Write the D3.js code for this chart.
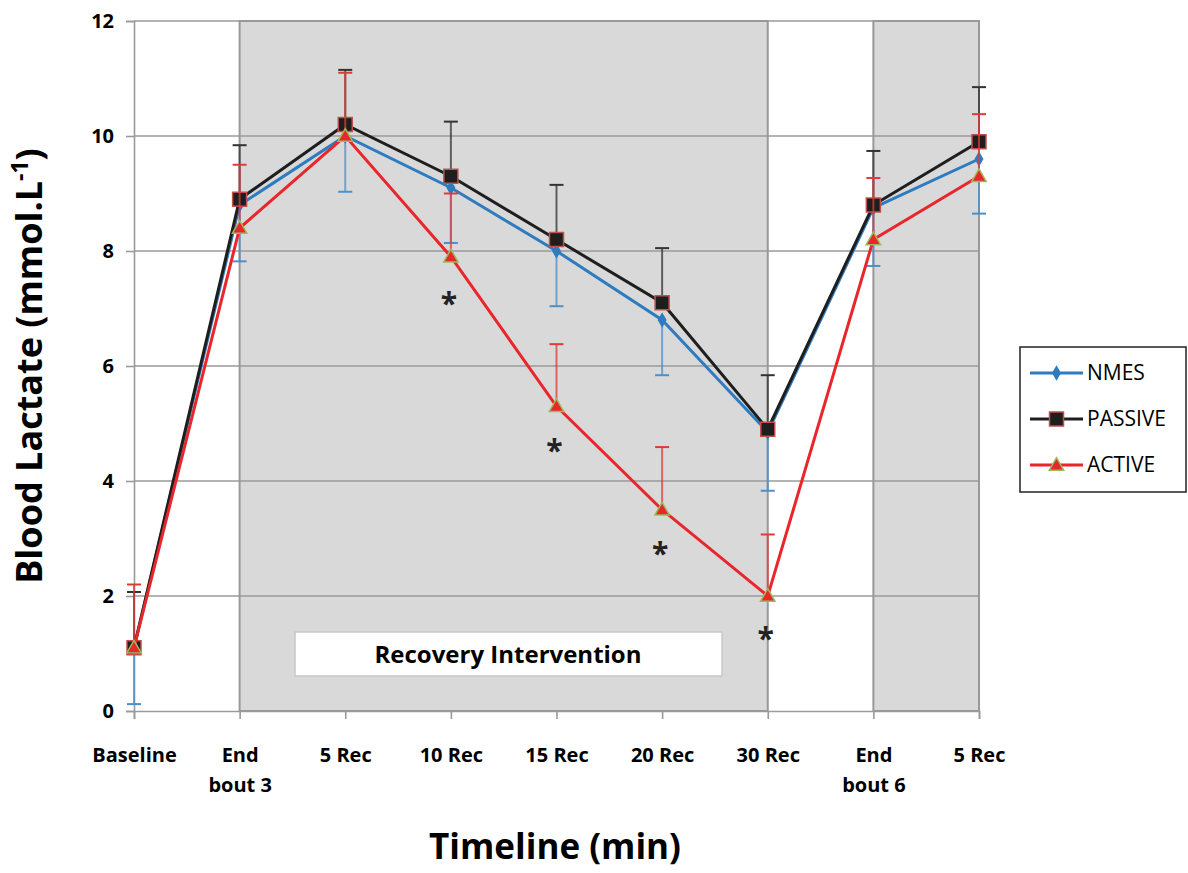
<!DOCTYPE html>
<html>
<head>
<meta charset="utf-8">
<script src="https://cdnjs.cloudflare.com/ajax/libs/d3/7.8.5/d3.min.js"></script>
<style>
  body { margin: 0; background: #fff; }
  text { font-family: "Open Sans", Lato, sans-serif; }
</style>
</head>
<body>
<div id="chart"></div>
<script>
// Time points
const categories = ["Baseline", "End bout 3", "5 Rec", "10 Rec", "15 Rec", "20 Rec", "30 Rec", "End bout 6", "5 Rec "];
const tickLabels = [["Baseline"], ["End", "bout 3"], ["5 Rec"], ["10 Rec"], ["15 Rec"], ["20 Rec"], ["30 Rec"], ["End", "bout 6"], ["5 Rec"]];

// Means (mmol/L)
const nmes    = [1.1, 8.8, 10.0, 9.1, 8.0, 6.8, 4.85, 8.75, 9.6];
const passive = [1.1, 8.9, 10.2, 9.3, 8.2, 7.1, 4.9, 8.8, 9.9];
const active  = [1.1, 8.4, 10.0, 7.9, 5.3, 3.5, 2.0, 8.2, 9.3];

// Error bar ends (NMES shown downward, PASSIVE/ACTIVE upward)
const nmesLow    = [0.12, 7.82, 9.03, 8.14, 7.04, 5.84, 3.83, 7.74, 8.65];
const passiveHigh = [2.07, 9.84, 11.15, 10.25, 9.15, 8.05, 5.84, 9.74, 10.85];
const activeHigh  = [2.2, 9.5, 11.1, 9.0, 6.38, 4.59, 3.07, 9.27, 10.38];

// Significance markers (ACTIVE vs others)
const sigIndex = [3, 4, 5, 6];
const sigY = [7.15, 4.6, 2.8, 1.32];

// Shaded spans (category indices)
const shaded = [[1, 6], [7, 8]];

const yTicks = [0, 2, 4, 6, 8, 10, 12];

const width = 1188, height = 873;
const svg = d3.select("#chart").append("svg")
  .attr("width", width)
  .attr("height", height);

const x = d3.scalePoint().domain(categories).range([134, 979]);
const y = d3.scaleLinear().domain([0, 12]).range([711, 21]);

// Shaded intervention zones
svg.selectAll("rect.zone")
  .data(shaded)
  .join("rect")
  .attr("class", "zone")
  .attr("x", d => x(categories[d[0]]))
  .attr("y", y(12))
  .attr("width", d => x(categories[d[1]]) - x(categories[d[0]]))
  .attr("height", y(0) - y(12))
  .attr("fill", "#d9d9d9")
  .attr("stroke", "#999")
  .attr("stroke-width", 2);

// Horizontal gridlines
svg.append("g")
  .selectAll("line")
  .data(yTicks.filter(d => d > 0))
  .join("line")
  .attr("x1", x.range()[0])
  .attr("x2", x.range()[1])
  .attr("y1", d => y(d))
  .attr("y2", d => y(d))
  .attr("stroke", "#9a9a9a")
  .attr("stroke-width", 1.6);

// Recovery Intervention label box
svg.append("rect")
  .attr("x", 295).attr("y", 632)
  .attr("width", 427).attr("height", 44)
  .attr("fill", "#fff")
  .attr("stroke", "#c8c8c8")
  .attr("stroke-width", 1.5);
svg.append("text")
  .attr("x", 508).attr("y", 663)
  .attr("text-anchor", "middle")
  .attr("font-size", 24)
  .attr("font-weight", "bold")
  .attr("fill", "#000")
  .text("Recovery Intervention");

// Y axis
const yAxis = svg.append("g")
  .attr("transform", `translate(${x.range()[0]},0)`)
  .call(d3.axisLeft(y).tickValues(yTicks).tickSize(8).tickPadding(12).tickFormat(d3.format("d")));
yAxis.select(".domain").attr("stroke", "#9a9a9a").attr("stroke-width", 1.6);
yAxis.selectAll(".tick line").attr("stroke", "#9a9a9a").attr("stroke-width", 1.6);
yAxis.selectAll(".tick text")
  .attr("font-size", 20)
  .attr("font-weight", "bold")
  .attr("fill", "#000")
  .attr("font-family", "'Open Sans', sans-serif");

// X axis
const xAxis = svg.append("g")
  .attr("transform", `translate(0,${y(0)})`)
  .call(d3.axisBottom(x).tickSize(8).tickFormat(""));
xAxis.select(".domain").attr("stroke", "#9a9a9a").attr("stroke-width", 1.6);
xAxis.selectAll(".tick line").attr("stroke", "#9a9a9a").attr("stroke-width", 1.6);
xAxis.selectAll(".tick").each(function(d, i) {
  const t = d3.select(this).append("text")
    .attr("text-anchor", "middle")
    .attr("font-size", 20)
    .attr("font-weight", "bold")
    .attr("fill", "#000")
    .attr("font-family", "'Open Sans', sans-serif");
  tickLabels[i].forEach((s, k) => {
    t.append("tspan").attr("x", 0).attr("y", 51 + k * 30).text(s);
  });
});

// Axis titles
svg.append("text")
  .attr("transform", `translate(42,${y(6)}) rotate(-90)`)
  .attr("text-anchor", "middle")
  .attr("font-size", 36)
  .attr("font-weight", "bold")
  .attr("fill", "#000")
  .call(t => {
    t.append("tspan").text("Blood Lactate (mmol.L");
    t.append("tspan").attr("font-size", 23).attr("dy", -14).text("-1");
    t.append("tspan").attr("dy", 14).text(")");
  });

svg.append("text")
  .attr("x", 555).attr("y", 859)
  .attr("text-anchor", "middle")
  .attr("font-size", 35)
  .attr("font-weight", "bold")
  .attr("fill", "#000")
  .text("Timeline (min)");

// Series definitions
const series = [
  { name: "NMES", values: nmes, err: nmesLow, color: "#2f7bc0", errColor: "#4d8fca", marker: "diamond" },
  { name: "PASSIVE", values: passive, err: passiveHigh, color: "#1e1e1e", errColor: "#333", marker: "square" },
  { name: "ACTIVE", values: active, err: activeHigh, color: "#e8262b", errColor: "#e03a3a", marker: "triangle" }
];

const line = d3.line()
  .x((d, i) => x(categories[i]))
  .y(d => y(d));

function drawMarker(g, type, px, py, color) {
  if (type === "diamond") {
    g.append("path")
      .attr("d", d3.symbol(d3.symbolDiamond, 70)())
      .attr("transform", `translate(${px},${py})`)
      .attr("fill", color);
  } else if (type === "square") {
    g.append("rect")
      .attr("x", px - 7).attr("y", py - 7)
      .attr("width", 14).attr("height", 14)
      .attr("fill", "#1e1e1e")
      .attr("stroke", "#c0504d")
      .attr("stroke-width", 1.5);
  } else {
    g.append("path")
      .attr("d", d3.symbol(d3.symbolTriangle, 90)())
      .attr("transform", `translate(${px},${py + 1})`)
      .attr("fill", "#e8262b")
      .attr("stroke", "#9bbb59")
      .attr("stroke-width", 1.5);
  }
}

series.forEach(s => {
  const g = svg.append("g");
  // error bars
  s.values.forEach((v, i) => {
    const px = x(categories[i]);
    g.append("line")
      .attr("x1", px).attr("x2", px)
      .attr("y1", y(v)).attr("y2", y(s.err[i]))
      .attr("stroke", s.errColor)
      .attr("stroke-opacity", 0.75)
      .attr("stroke-width", 2);
    g.append("line")
      .attr("x1", px - 7).attr("x2", px + 7)
      .attr("y1", y(s.err[i])).attr("y2", y(s.err[i]))
      .attr("stroke", s.errColor)
      .attr("stroke-width", 2);
  });
  g.append("path")
    .datum(s.values)
    .attr("d", line)
    .attr("fill", "none")
    .attr("stroke", s.color)
    .attr("stroke-width", 3);
  s.values.forEach((v, i) => drawMarker(g, s.marker, x(categories[i]), y(v), s.color));
});

// Significance asterisks
svg.append("g")
  .selectAll("text")
  .data(sigIndex)
  .join("text")
  .attr("x", d => x(categories[d]) - 2)
  .attr("y", (d, i) => y(sigY[i]) + 14)
  .attr("text-anchor", "middle")
  .attr("font-size", 30)
  .attr("font-weight", "bold")
  .attr("fill", "#222")
  .text("*");

// Legend
const legend = svg.append("g").attr("transform", "translate(1020,347)");
legend.append("rect")
  .attr("width", 166).attr("height", 145)
  .attr("fill", "#fff")
  .attr("stroke", "#222")
  .attr("stroke-width", 1.5);
series.forEach((s, i) => {
  const ly = 26 + i * 46;
  legend.append("line")
    .attr("x1", 10).attr("x2", 63)
    .attr("y1", ly).attr("y2", ly)
    .attr("stroke", s.color)
    .attr("stroke-width", 3);
  drawMarker(legend, s.marker, 36.5, ly, s.color);
  legend.append("text")
    .attr("x", 67).attr("y", ly + 7)
    .attr("font-size", 21)
    .attr("fill", "#000")
    .text(s.name);
});
</script>
</body>
</html>
